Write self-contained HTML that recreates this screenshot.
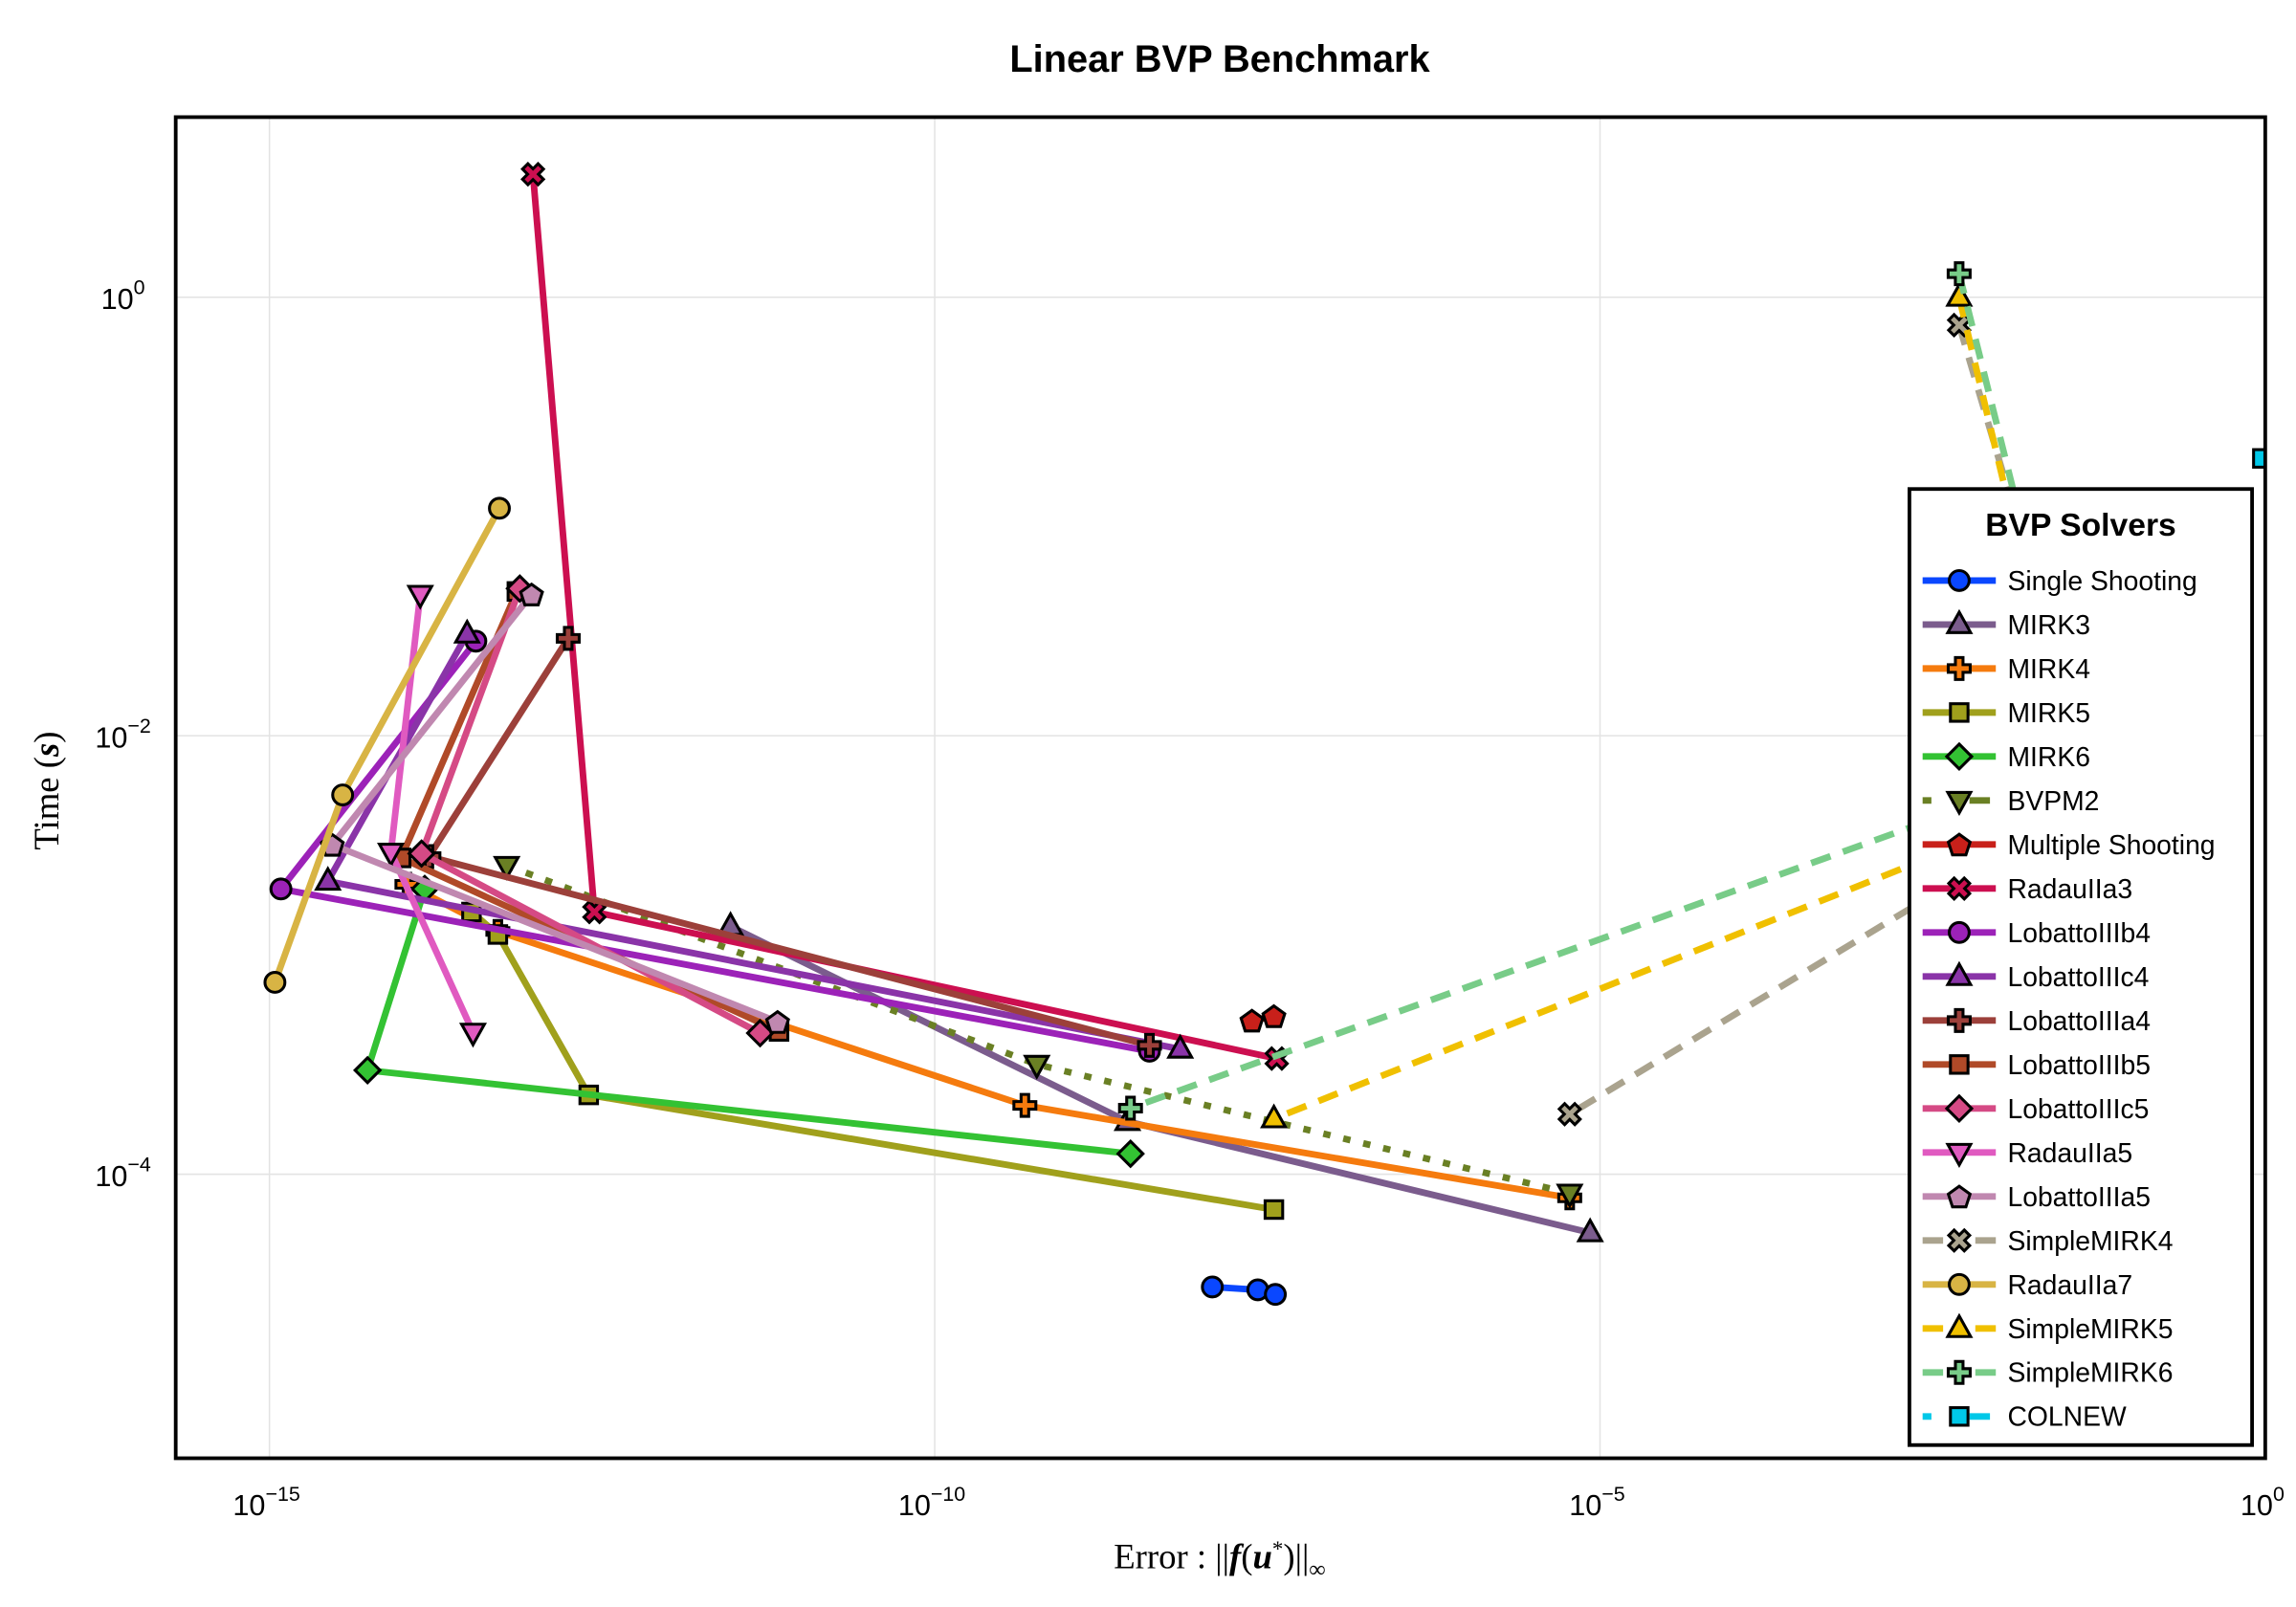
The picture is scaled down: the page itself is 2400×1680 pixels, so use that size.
<!DOCTYPE html>
<html><head><meta charset="utf-8"><title>Linear BVP Benchmark</title>
<style>html,body{margin:0;padding:0;background:#fff}svg{display:block}</style></head>
<body>
<svg id="chart" xmlns="http://www.w3.org/2000/svg" width="2400" height="1680" viewBox="0 0 1568 1097.6" font-family="Liberation Sans, sans-serif">
<rect x="0" y="0" width="1568" height="1097.6" fill="#fff"/>
<text x="833" y="49" text-anchor="middle" font-size="26" font-weight="bold">Linear BVP Benchmark</text>
<g id="grid"></g>
<g id="ticks"></g>
<defs><clipPath id="plotclip"><rect x="120" y="80" width="1427" height="916"/></clipPath></defs>
<g id="series" clip-path="url(#plotclip)"></g>
<rect x="120" y="80" width="1427" height="916" fill="none" stroke="#000" stroke-width="2.5"/>
<text transform="translate(40,540) rotate(-90)" text-anchor="middle" font-family="Liberation Serif, serif" font-size="24">Time (<tspan font-style="italic" font-weight="bold">s</tspan>)</text>
<text x="833" y="1071" text-anchor="middle" font-family="Liberation Serif, serif" font-size="24">Error :  ||<tspan font-style="italic" font-weight="bold">f</tspan>(<tspan font-style="italic" font-weight="bold">u</tspan><tspan font-size="15" dy="-8">*</tspan><tspan dy="8">)||</tspan><tspan font-size="16" dy="6">∞</tspan></text>
<g id="legend"></g>
</svg>
<script>
const NS='http://www.w3.org/2000/svg';
const xTicks=[1e-15,1e-10,1e-5,1];
const xTickLabels=['−15','−10','−5','0'];
const yTicks=[1,1e-2,1e-4];
const yTickLabels=['0','−2','−4'];
const seriesNames=['Single Shooting','MIRK3','MIRK4','MIRK5','MIRK6','BVPM2','Multiple Shooting','RadauIIa3','LobattoIIIb4','LobattoIIIc4','LobattoIIIa4','LobattoIIIb5','LobattoIIIc5','RadauIIa5','LobattoIIIa5','SimpleMIRK4','RadauIIa7','SimpleMIRK5','SimpleMIRK6','COLNEW'];
const errSingleShooting=[1.22e-8,2.68e-8,3.63e-8];
const timeSingleShooting=[3.06e-5,2.97e-5,2.83e-5];
const errMIRK3=[2.92e-12,2.81e-9,8.43e-6];
const timeMIRK3=[1.35e-3,1.74e-4,5.41e-5];
const errMIRK4=[1.08e-14,5.21e-14,4.76e-10,5.92e-6];
const timeMIRK4=[2.10e-3,1.28e-3,2.06e-4,7.8e-5];
const errMIRK5=[3.30e-14,5.21e-14,2.51e-13,3.54e-8];
const timeMIRK5=[1.57e-3,1.24e-3,2.30e-4,6.9e-5];
const errMIRK6=[1.47e-14,5.46e-15,2.96e-9];
const timeMIRK6=[2.00e-3,2.98e-4,1.24e-4];
const errBVPM2=[6.07e-14,5.85e-10,5.92e-6];
const timeBVPM2=[2.56e-3,3.17e-4,8.19e-5];
const errMultipleShooting=[2.42e-8,3.54e-8];
const timeMultipleShooting=[5.02e-4,5.26e-4];
const errRadauIIa3=[9.57e-14,2.77e-13,3.72e-8];
const timeRadauIIa3=[3.64,1.57e-3,3.37e-4];
const errLobattoIIIb4=[3.56e-14,1.22e-15,4.11e-9];
const timeLobattoIIIb4=[2.70e-2,2.00e-3,3.64e-4];
const errLobattoIIIc4=[3.06e-14,2.75e-15,7.0e-9];
const timeLobattoIIIc4=[2.91e-2,2.17e-3,3.72e-4];
const errLobattoIIIa4=[1.76e-13,1.58e-14,4.11e-9];
const timeLobattoIIIa4=[2.78e-2,2.81e-3,3.87e-4];
const errLobattoIIIb5=[7.24e-14,9.77e-15,6.76e-12];
const timeLobattoIIIb5=[4.55e-2,2.77e-3,4.48e-4];
const errLobattoIIIc5=[7.62e-14,1.39e-14,4.87e-12];
const timeLobattoIIIc5=[4.69e-2,2.90e-3,4.40e-4];
const errRadauIIa5=[1.36e-14,8.18e-15,3.39e-14];
const timeRadauIIa5=[4.41e-2,2.94e-3,4.44e-4];
const errLobattoIIIa5=[9.33e-14,2.97e-15,6.59e-12];
const timeLobattoIIIa5=[4.41e-2,3.18e-3,4.95e-4];
const errSimpleMIRK4=[5.0e-3,5.56e-2,5.92e-6];
const timeSimpleMIRK4=[0.746,5.37e-3,1.88e-4];
const errRadauIIa7=[1.1e-15,3.55e-15,5.35e-14];
const timeRadauIIa7=[7.5e-4,5.37e-3,0.109];
const errSimpleMIRK5=[5.0e-3,4.0e-2,3.54e-8];
const timeSimpleMIRK5=[1.0,5.2e-3,1.79e-4];
const errSimpleMIRK6=[5.0e-3,4.2e-2,2.96e-9];
const timeSimpleMIRK6=[1.28,7.3e-3,2.0e-4];
const errCOLNEW=[0.95];
const timeCOLNEW=[0.184];

const errs=[errSingleShooting,errMIRK3,errMIRK4,errMIRK5,errMIRK6,errBVPM2,errMultipleShooting,errRadauIIa3,errLobattoIIIb4,errLobattoIIIc4,errLobattoIIIa4,errLobattoIIIb5,errLobattoIIIc5,errRadauIIa5,errLobattoIIIa5,errSimpleMIRK4,errRadauIIa7,errSimpleMIRK5,errSimpleMIRK6,errCOLNEW];
const times=[timeSingleShooting,timeMIRK3,timeMIRK4,timeMIRK5,timeMIRK6,timeBVPM2,timeMultipleShooting,timeRadauIIa3,timeLobattoIIIb4,timeLobattoIIIc4,timeLobattoIIIa4,timeLobattoIIIb5,timeLobattoIIIc5,timeRadauIIa5,timeLobattoIIIa5,timeSimpleMIRK4,timeRadauIIa7,timeSimpleMIRK5,timeSimpleMIRK6,timeCOLNEW];
const styles=[
['#0a47ff','circle',''],['#7b5c8d','tri',''],['#f57b0e','plus',''],['#a0a01c','square',''],['#33c233','diamond',''],
['#6a8024','dtri','5 9'],['#c8201a','penta',''],['#cc0f50','x',''],['#9c22b8','circle',''],['#8a34a8','tri',''],
['#9c403a','plus',''],['#b04a28','square',''],['#d54a85','diamond',''],['#e05ac0','dtri',''],['#c088b0','penta',''],
['#aaa38e','x','14 9'],['#d8b444','circle',''],['#f0c000','tri','14 9'],['#78cc88','plus','14 9'],['#00c8e8','square','5 9']];

function xs(v){return 184+(Math.log10(v)+15)*90.87;}
function ys(v){return 203-Math.log10(v)*149.75;}
function mk(tag,attrs){const e=document.createElementNS(NS,tag);for(const k in attrs)e.setAttribute(k,attrs[k]);return e;}
function slug(s){return s.toLowerCase().replace(/[^a-z0-9]+/g,'-');}
function markerEl(type,cx,cy,fill){
  let e;
  const pts=a=>a.map(p=>(cx+p[0]).toFixed(2)+','+(cy+p[1]).toFixed(2)).join(' ');
  const cross=[[-2.6,-7.5],[2.6,-7.5],[2.6,-2.6],[7.5,-2.6],[7.5,2.6],[2.6,2.6],[2.6,7.5],[-2.6,7.5],[-2.6,2.6],[-7.5,2.6],[-7.5,-2.6],[-2.6,-2.6]];
  if(type==='circle')e=mk('circle',{cx:cx,cy:cy,r:6.8});
  else if(type==='square')e=mk('rect',{x:cx-6,y:cy-6,width:12,height:12});
  else if(type==='tri')e=mk('polygon',{points:pts([[0,-8.5],[7.8,5.5],[-7.8,5.5]])});
  else if(type==='dtri')e=mk('polygon',{points:pts([[0,8.5],[7.8,-5.5],[-7.8,-5.5]])});
  else if(type==='diamond')e=mk('polygon',{points:pts([[0,-8.5],[8.5,0],[0,8.5],[-8.5,0]])});
  else if(type==='penta'){const a=[];for(let i=0;i<5;i++){const t=-Math.PI/2+i*2*Math.PI/5;a.push([7.8*Math.cos(t),7.8*Math.sin(t)+0.8]);}e=mk('polygon',{points:pts(a)});}
  else if(type==='plus')e=mk('polygon',{points:pts(cross)});
  else {const c=Math.SQRT1_2;e=mk('polygon',{points:pts(cross.map(p=>[(p[0]-p[1])*c,(p[0]+p[1])*c]))});}
  e.setAttribute('fill',fill);e.setAttribute('stroke','#000');e.setAttribute('stroke-width','2');
  return e;
}
const grid=document.getElementById('grid');
const ticks=document.getElementById('ticks');
xTicks.forEach((t,i)=>{
  const x=xs(t);
  const g=mk('line',{x1:x,x2:x,y1:80,y2:996,stroke:'#e3e3e3','stroke-width':1});
  
  
  grid.appendChild(g);
  const tx=mk('text',{x:x-2,y:1035,'text-anchor':'middle','font-size':20});
  
  
  tx.innerHTML='10<tspan font-size="14" dy="-10">'+xTickLabels[i]+'</tspan>';
  ticks.appendChild(tx);
});
yTicks.forEach((t,i)=>{
  const y=ys(t);
  const g=mk('line',{x1:120,x2:1547,y1:y,y2:y,stroke:'#e3e3e3','stroke-width':1});
  
  
  grid.appendChild(g);
  const tx=mk('text',{x:84,y:y+8,'text-anchor':'middle','font-size':20});
  
  
  tx.innerHTML='10<tspan font-size="14" dy="-10">'+yTickLabels[i]+'</tspan>';
  ticks.appendChild(tx);
});
const sg=document.getElementById('series');
seriesNames.forEach((name,i)=>{
  const st=styles[i];
  const g=mk('g',{});
  
  
  const d=errs[i].map((e,j)=>(j?'L':'M')+xs(e).toFixed(2)+','+ys(times[i][j]).toFixed(2)).join(' ');
  const p=mk('path',{d:d,fill:'none',stroke:st[0],'stroke-width':4.5,'stroke-linejoin':'round'});
  if(st[2])p.setAttribute('stroke-dasharray',st[2]);
  
  
  g.appendChild(p);
  errs[i].forEach((e,j)=>{
    const m=markerEl(st[1],xs(e),ys(times[i][j]),st[0]);
    
    
    g.appendChild(m);
  });
  sg.appendChild(g);
});
const lg=document.getElementById('legend');
const box=mk('rect',{x:1304,y:334,width:234,height:653,fill:'#fff',stroke:'#000','stroke-width':2.5});


lg.appendChild(box);
const lt=mk('text',{x:1421,y:366,'text-anchor':'middle','font-size':22,'font-weight':'bold'});


lt.textContent='BVP Solvers';
lg.appendChild(lt);
seriesNames.forEach((name,i)=>{
  const st=styles[i];const y=396.5+i*30.05;
  const g=mk('g',{});
  
  
  const l=mk('line',{x1:1313,x2:1363,y1:y,y2:y,stroke:st[0],'stroke-width':4.5});
  if(st[2])l.setAttribute('stroke-dasharray',st[2]==='5 9'?'6 14 6':'14 22 14');
  
  
  g.appendChild(l);
  const m=markerEl(st[1],1338,y,st[0]);
  
  
  g.appendChild(m);
  const t=mk('text',{x:1371,y:y+6.5,'font-size':18.5});
  
  
  t.textContent=name;
  g.appendChild(t);
  lg.appendChild(g);
});
</script>
</body></html>
